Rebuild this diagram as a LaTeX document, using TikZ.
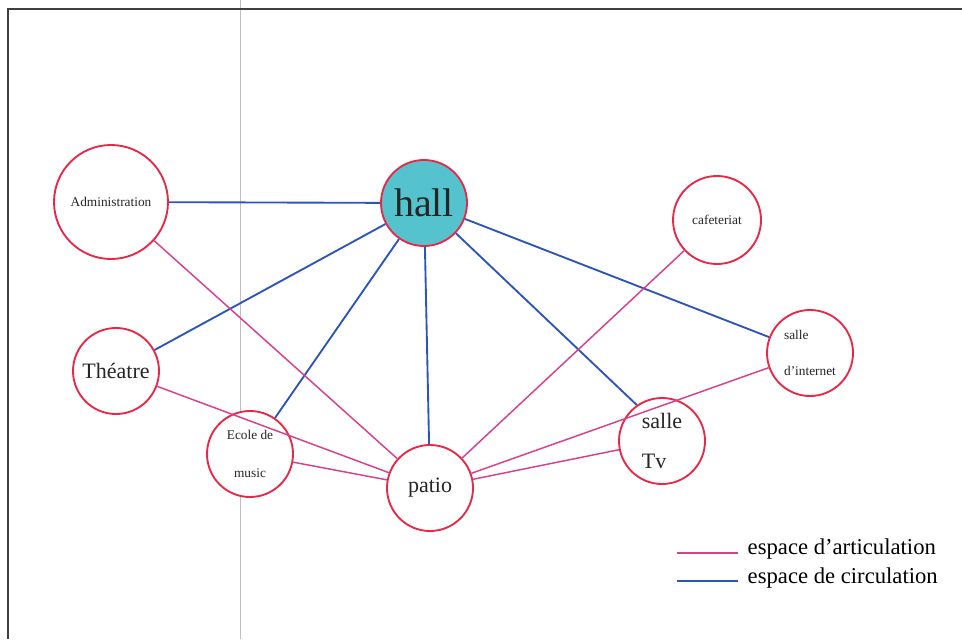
\documentclass[tikz,border=0pt]{standalone}
\usepackage{fontspec}
\setmainfont{Liberation Serif}
\definecolor{rouge}{RGB}{232,40,70}
\definecolor{rose}{RGB}{215,65,140}
\definecolor{bleu}{RGB}{45,85,185}
\definecolor{turquoise}{RGB}{85,195,205}
\begin{document}
\begin{tikzpicture}[x=0.75pt, y=-0.75pt]
\tikzset{piece/.style={draw=rouge, line width=1.4pt, circle, inner sep=0pt, minimum size=64.5pt, fill=white, text=black!85},
petit/.style={font=\fontsize{10}{12}\selectfont},
moyen/.style={font=\fontsize{16.5}{19.8}\selectfont},
circulation/.style={draw=bleu, line width=1.4pt},
articulation/.style={draw=rose, line width=1.1pt}}
\useasboundingbox (0,0) rectangle (962,639);
\draw[black!25, line width=0.6pt] (240,0) -- (240,639);
\draw[black!75, line width=2pt] (962,9) -- (8,9) -- (8,639);
\draw[articulation] (677,553) coordinate (L1a) -- (738,553) coordinate (L1b);
\draw[circulation] (677,581) coordinate (L2a) -- (738,581) coordinate (L2b);
\node[moyen, anchor=west, font=\fontsize{17}{20}\selectfont] (T1) at (743,549) {espace d'articulation};
\node[moyen, anchor=west, font=\fontsize{17}{20}\selectfont] (T2) at (743,578) {espace de circulation};
\node[piece, petit, minimum size=85.5pt] (Admin) at (111,202) {Administration};
\node[piece, fill=turquoise, font=\fontsize{30}{36}\selectfont] (Hall) at (424,203) {hall};
\node[piece, moyen] (Theatre) at (116,371) {Théatre};
\node[piece, petit, align=center] (Ecole) at (250,454) {Ecole de\\[16.5pt]music};
\node[piece, moyen] (Patio) at (430,488) {patio};
\node[piece, petit, minimum size=66pt] (Cafe) at (717,220) {cafeteriat};
\node[piece, petit, align=left] (Internet) at (810,353) {salle\\[15.5pt]d'internet};
\node[piece, moyen, align=left] (Tv) at (662,441) {salle\\[10pt]Tv};
\draw[circulation] (Admin) -- (Hall);
\draw[circulation] (Hall) -- (Theatre);
\draw[circulation] (Hall) -- (Ecole);
\draw[circulation] (Hall) -- (Patio);
\draw[circulation] (Hall) -- (Tv.125);
\draw[circulation] (Hall) -- (Internet);
\draw[articulation] (Admin) -- (Patio);
\draw[articulation] (Theatre) -- (Patio);
\draw[articulation] (Ecole) -- (Patio);
\draw[articulation] (Cafe) -- (Patio);
\draw[articulation] (Internet) -- (Patio);
\draw[articulation] (Tv) -- (Patio);
\end{tikzpicture}
\end{document}
